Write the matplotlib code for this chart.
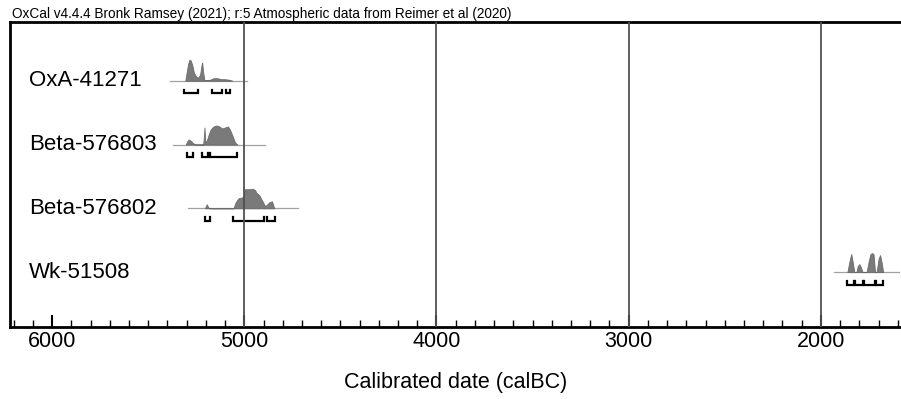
import matplotlib
matplotlib.use('Agg')
from matplotlib import pyplot as plt
from matplotlib.ticker import MultipleLocator
import matplotlib.transforms as mtransforms

plt.rcParams['font.family'] = ['Liberation Sans', 'DejaVu Sans']

# sample names, top to bottom
samples = ['OxA-41271', 'Beta-576803', 'Beta-576802', 'Wk-51508']

# extent of the light baseline under each distribution (calBC)
baseline_from = [5385, 5371, 5292, 1932]
baseline_to = [4984, 4891, 4719, 1594]

# probability distributions: years (calBC) and relative heights
oxa_years = [5307, 5300, 5292, 5285, 5278, 5270, 5262, 5250, 5240, 5230, 5222, 5219,
             5215, 5208, 5200, 5177, 5160, 5140, 5120, 5100, 5080, 5062]
oxa_prob = [0, 8, 17, 21, 20, 15, 8, 4, 3, 6, 16, 18, 10, 1, 0.5, 1, 2.5, 2.5, 1.5, 1.5, 1, 0]

b803_years = [5305, 5297, 5290, 5280, 5265, 5255, 5214, 5210, 5207, 5204, 5200, 5195,
              5185, 5175, 5160, 5145, 5130, 5115, 5100, 5085, 5075, 5060, 5048, 5036]
b803_prob = [0, 3, 5, 4, 1, 0, 0, 8, 17, 5, 2, 4, 10, 15, 18, 19, 18, 16, 17, 18, 15, 8, 2, 0]

b802_years = [5205, 5195, 5188, 5180, 5056, 5045, 5030, 5010, 5001, 5000, 4975, 4955,
              4943, 4938, 4922, 4908, 4891, 4870, 4856, 4844]
b802_prob = [0, 4, 1, 0, 0, 6, 10, 11, 12, 19, 19, 19.5, 18, 15.7, 13, 8, 2, 6, 7, 0]

wk_years = [1862, 1852, 1842, 1836, 1826, 1815, 1808, 1800, 1792, 1783, 1762, 1752,
            1742, 1734, 1726, 1718, 1710, 1700, 1692, 1684, 1676]
wk_prob = [0, 10, 18, 12, 0, 0, 6, 8, 5, 0, 0, 10, 18, 19, 18, 0, 0, 13, 17, 10, 0]

dist_years = [oxa_years, b803_years, b802_years, wk_years]
dist_prob = [oxa_prob, b803_prob, b802_prob, wk_prob]

# 95.4% ranges (calBC, from -> to)
ranges = [
    [(5312, 5240), (5167, 5115), (5094, 5073)],
    [(5297, 5268), (5219, 5190), (5180, 5036)],
    [(5203, 5177), (5057, 4896), (4880, 4839)],
    [(1862, 1829), (1820, 1783), (1775, 1720), (1711, 1676)],
]

fig = plt.figure(figsize=(9.01, 3.99), dpi=100)
ax = fig.add_axes([10 / 901, 72 / 399, 891 / 901, 305 / 399])

scale = 0.33 / 21.0
for i in range(len(samples)):
    ax.plot([baseline_from[i], baseline_to[i]], [i, i], color='#a0a0a0', lw=0.9, zorder=2)
    ys = [i - p * scale for p in dist_prob[i]]
    ax.fill_between(dist_years[i], [i] * len(ys), ys, color='#7a7a7a', lw=0.6,
                    edgecolor='#6a6a6a', zorder=3)
    yb = i + 0.2
    for a, b in ranges[i]:
        ax.plot([a, a, b, b], [yb - 0.06, yb, yb, yb - 0.06], color='black', lw=1.6,
                solid_joinstyle='miter', zorder=4)

trans = mtransforms.blended_transform_factory(ax.transAxes, ax.transData)
for i, name in enumerate(samples):
    ax.text(19 / 891, i, name, transform=trans, ha='left', va='center', fontsize=16)

for yr in [5000, 4000, 3000, 2000]:
    ax.axvline(yr, color='#505050', lw=1.3, zorder=5)

ax.set_xlim(6219, 1583)
ax.set_ylim(3.86, -0.92)
ax.set_yticks([])
ax.xaxis.set_major_locator(MultipleLocator(1000))
ax.xaxis.set_minor_locator(MultipleLocator(100))
ax.tick_params(axis='x', which='major', direction='in', length=9, width=1.5, labelsize=15.5, pad=3)
ax.tick_params(axis='x', which='minor', direction='in', length=5, width=1)
for s in ['left', 'top', 'bottom']:
    ax.spines[s].set_linewidth(2)
ax.spines['right'].set_visible(False)
ax.set_xlabel('Calibrated date (calBC)', fontsize=15.5, labelpad=14)

fig.text(12 / 901, 1 - 18 / 399,
         'OxCal v4.4.4 Bronk Ramsey (2021); r:5 Atmospheric data from Reimer et al (2020)',
         fontsize=9.8, ha='left', va='baseline')

plt.savefig('out.png', dpi=100)
